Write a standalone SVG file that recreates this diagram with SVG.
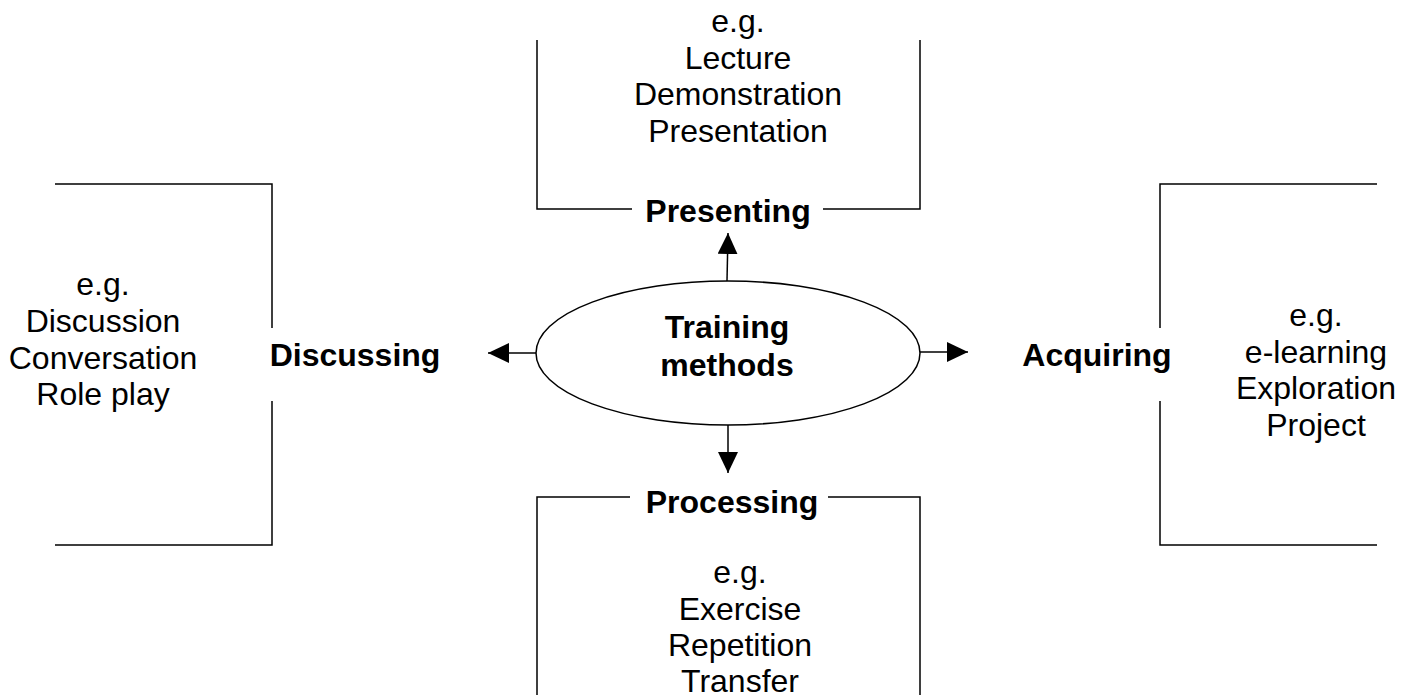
<svg xmlns="http://www.w3.org/2000/svg" width="1411" height="695" viewBox="0 0 1411 695">
  <style>
    .frame { fill: none; stroke: #000; stroke-width: 1.5; }
    .conn { fill: none; stroke: #000; stroke-width: 1.5; }
    .item { font-family: "Liberation Sans", Arial, sans-serif; font-size: 32px; fill: #000; text-anchor: middle; }
    .head { font-family: "Liberation Sans", Arial, sans-serif; font-size: 32px; font-weight: bold; fill: #000; text-anchor: middle; }
  </style>
  <defs>
    <marker id="arrow" viewBox="0 0 21 20" refX="21" refY="10" markerWidth="21" markerHeight="20" markerUnits="userSpaceOnUse" orient="auto">
      <path d="M0,0 L21,10 L0,20 Z" fill="#000"/>
    </marker>
  </defs>
  <rect x="0" y="0" width="1411" height="695" fill="#fff"/>

  <!-- central node -->
  <g id="training-methods">
    <ellipse cx="728" cy="353" rx="192" ry="72" fill="#fff" stroke="#000" stroke-width="1.5"/>
    <text class="head" x="727" y="338">Training</text>
    <text class="head" x="727" y="376">methods</text>
  </g>

  <!-- top: presenting -->
  <g id="presenting">
    <path class="frame" d="M537,40 V209 H632 M823,209 H920 V40"/>
    <text class="head" x="728" y="222">Presenting</text>
    <text class="item" x="738" y="32">e.g.</text>
    <text class="item" x="738" y="68.5">Lecture</text>
    <text class="item" x="738" y="105">Demonstration</text>
    <text class="item" x="738" y="141.5">Presentation</text>
  </g>

  <!-- left: discussing -->
  <g id="discussing">
    <path class="frame" d="M55,184 H272 V328 M272,401 V545 H55"/>
    <text class="head" x="355" y="366">Discussing</text>
    <text class="item" x="103" y="295">e.g.</text>
    <text class="item" x="103" y="332">Discussion</text>
    <text class="item" x="103" y="368.5">Conversation</text>
    <text class="item" x="103" y="405">Role play</text>
  </g>

  <!-- right: acquiring -->
  <g id="acquiring">
    <path class="frame" d="M1377,184 H1160 V328 M1160,401 V545 H1377"/>
    <text class="head" x="1097" y="366">Acquiring</text>
    <text class="item" x="1316" y="326">e.g.</text>
    <text class="item" x="1316" y="362.5">e-learning</text>
    <text class="item" x="1316" y="399">Exploration</text>
    <text class="item" x="1316" y="435.5">Project</text>
  </g>

  <!-- bottom: processing -->
  <g id="processing">
    <path class="frame" d="M537,695 V497 H630 M828,497 H920 V695"/>
    <text class="head" x="732" y="513">Processing</text>
    <text class="item" x="740" y="583">e.g.</text>
    <text class="item" x="740" y="619.5">Exercise</text>
    <text class="item" x="740" y="656">Repetition</text>
    <text class="item" x="740" y="692">Transfer</text>
  </g>

  <!-- connectors -->
  <g id="connectors">
    <line class="conn" x1="727" y1="281" x2="728" y2="233" marker-end="url(#arrow)"/>
    <line class="conn" x1="728" y1="425" x2="728" y2="473" marker-end="url(#arrow)"/>
    <line class="conn" x1="536" y1="353" x2="488" y2="353" marker-end="url(#arrow)"/>
    <line class="conn" x1="920" y1="352" x2="968" y2="352" marker-end="url(#arrow)"/>
  </g>
</svg>
